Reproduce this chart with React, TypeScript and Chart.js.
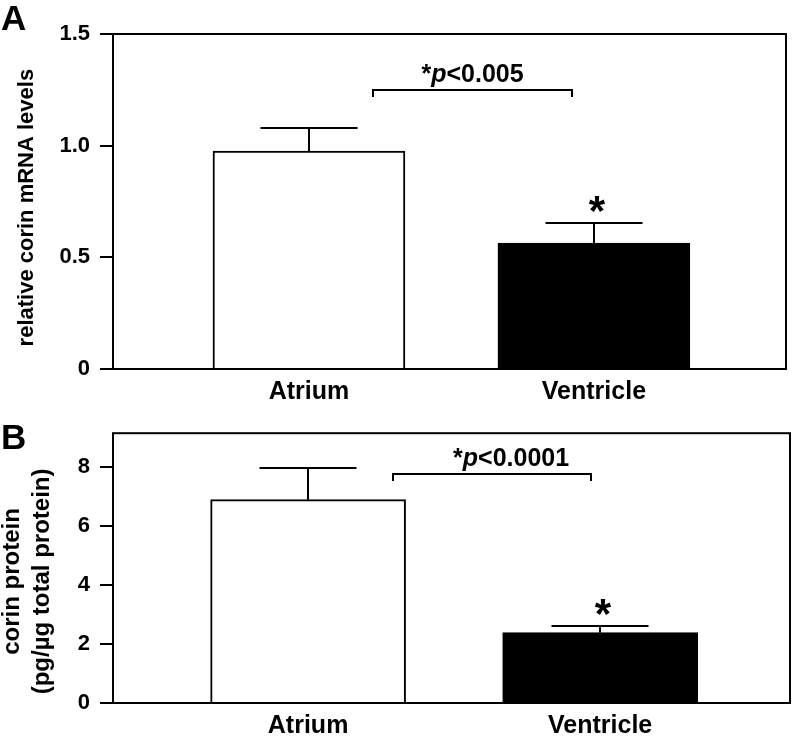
import React, { useEffect, useRef } from "react";
import { Chart, registerables } from "chart.js";

Chart.register(...registerables);

// ---------- data ----------
const categories = ["Atrium", "Ventricle"];
const barColors = ["#ffffff", "#000000"];

const mrnaMeans = [0.976, 0.564];
const mrnaErrors = [0.104, 0.09];
const mrnaTicks = [0, 0.5, 1.0, 1.5];
const mrnaTickLabels = ["0", "0.5", "1.0", "1.5"];
const mrnaPText = "<0.005";

const proteinMeans = [6.88, 2.38];
const proteinErrors = [1.07, 0.21];
const proteinTicks = [0, 2, 4, 6, 8];
const proteinTickLabels = ["0", "2", "4", "6", "8"];
const proteinPText = "<0.0001";

const FONT = "'Liberation Sans', Arial, Helvetica, sans-serif";

type Panel = {
  letter: string;
  letterBaseline: number;
  means: number[];
  errors: number[];
  ticks: number[];
  tickLabels: string[];
  yMax: number;
  yTitle: string | string[];
  titleSize: number;
  titleLineHeight: number;
  titlePad: number;
  height: number;
  padTop: number;
  padRight: number;
  xAxisHeight: number;
  xMin: number;
  xMax: number;
  barThickness: number;
  bracket: { x0: number; x1: number; y: number; textX: number; p: string };
};

const panelA: Panel = {
  letter: "A",
  letterBaseline: 30,
  means: mrnaMeans,
  errors: mrnaErrors,
  ticks: mrnaTicks,
  tickLabels: mrnaTickLabels,
  yMax: 1.5,
  yTitle: "relative corin mRNA levels  ",
  titleSize: 22,
  titleLineHeight: 1.2,
  titlePad: 13.5,
  height: 410,
  padTop: 34,
  padRight: 7,
  xAxisHeight: 41,
  xMin: -0.6876,
  xMax: 1.674,
  barThickness: 192,
  bracket: { x0: 0.2245, x1: 0.923, y: 1.25, textX: 0.574, p: mrnaPText },
};

const panelB: Panel = {
  letter: "B",
  letterBaseline: 39,
  means: proteinMeans,
  errors: proteinErrors,
  ticks: proteinTicks,
  tickLabels: proteinTickLabels,
  yMax: 9.13,
  yTitle: ["corin protein    ", "(pg/\u00B5g total protein)    "],
  titleSize: 24,
  titleLineHeight: 1.25,
  titlePad: -3,
  height: 331,
  padTop: 18,
  padRight: 3,
  xAxisHeight: 38,
  xMin: -0.668,
  xMax: 1.65,
  barThickness: 195,
  bracket: { x0: 0.291, x1: 0.969, y: 7.76, textX: 0.695, p: proteinPText },
};

function decorPlugin(cfg: Panel) {
  return {
    id: "panelDecor",
    afterDatasetsDraw(chart: any) {
      const { ctx, chartArea: a, scales } = chart;
      const xs = scales.x;
      const ys = scales.y;
      ctx.save();
      ctx.strokeStyle = "#000";
      ctx.fillStyle = "#000";
      ctx.lineWidth = 2;
      const line = (x1: number, y1: number, x2: number, y2: number) => {
        ctx.beginPath();
        ctx.moveTo(x1, y1);
        ctx.lineTo(x2, y2);
        ctx.stroke();
      };
      // error bars
      const meta = chart.getDatasetMeta(0);
      const capHalf = 48.5;
      let lastCap = 0;
      let lastX = 0;
      meta.data.forEach((bar: any, i: number) => {
        const x = Math.round(bar.x);
        const yTop = ys.getPixelForValue(cfg.means[i]);
        const yCap = Math.round(ys.getPixelForValue(cfg.means[i] + cfg.errors[i]));
        line(x, yTop, x, yCap);
        line(x - capHalf, yCap, x + capHalf, yCap);
        lastCap = yCap;
        lastX = x;
      });
      // frame
      ctx.strokeRect(a.left, a.top, a.right - a.left, a.bottom - a.top);
      // significance bracket
      const b = cfg.bracket;
      const bx0 = Math.round(xs.getPixelForValue(b.x0));
      const bx1 = Math.round(xs.getPixelForValue(b.x1));
      const by = Math.round(ys.getPixelForValue(b.y));
      ctx.beginPath();
      ctx.moveTo(bx0, by + 7);
      ctx.lineTo(bx0, by);
      ctx.lineTo(bx1, by);
      ctx.lineTo(bx1, by + 7);
      ctx.stroke();
      // p text: "*" bold, "p" bold italic, rest bold
      const fBold = `bold 25px ${FONT}`;
      const fIt = `italic bold 25px ${FONT}`;
      ctx.textBaseline = "alphabetic";
      ctx.textAlign = "left";
      ctx.font = fBold;
      const wStar = ctx.measureText("*").width;
      const wRest = ctx.measureText(b.p).width;
      ctx.font = fIt;
      const wP = ctx.measureText("p").width;
      const total = wStar + wP + wRest;
      let tx = xs.getPixelForValue(b.textX) - total / 2;
      const tyBase = by - 8;
      ctx.font = fBold;
      ctx.fillText("*", tx, tyBase);
      tx += wStar;
      ctx.font = fIt;
      ctx.fillText("p", tx, tyBase);
      tx += wP;
      ctx.font = fBold;
      ctx.fillText(b.p, tx, tyBase);
      // asterisk over second bar
      ctx.font = `bold 42px ${FONT}`;
      ctx.textAlign = "center";
      const m = ctx.measureText("*");
      const desc = m.actualBoundingBoxDescent || -15;
      const glyphBottom = lastCap - 11;
      ctx.fillText("*", lastX + 3, glyphBottom - desc);
      // panel letter
      ctx.font = `bold 35px ${FONT}`;
      ctx.textAlign = "left";
      ctx.fillText(cfg.letter, 1, cfg.letterBaseline);
      ctx.restore();
    },
  };
}

function PanelChart({ cfg, top }: { cfg: Panel; top: number }) {
  const ref = useRef<HTMLCanvasElement | null>(null);
  useEffect(() => {
    if (!ref.current) return;
    const chart = new Chart(ref.current, {
      type: "bar",
      data: {
        datasets: [
          {
            data: categories.map((_, i) => ({ x: i, y: cfg.means[i] })),
            backgroundColor: barColors,
            borderColor: "#000",
            borderWidth: 2,
            barThickness: cfg.barThickness,
          } as any,
        ],
      },
      options: {
        animation: false,
        responsive: false,
        maintainAspectRatio: false,
        devicePixelRatio: 1,
        layout: { padding: { top: cfg.padTop, right: cfg.padRight, left: 0, bottom: 0 } },
        plugins: { legend: { display: false }, tooltip: { enabled: false }, title: { display: false } },
        scales: {
          x: {
            type: "linear",
            offset: false,
            min: cfg.xMin,
            max: cfg.xMax,
            grid: { display: false, offset: false },
            border: { display: false },
            afterBuildTicks: (s: any) => {
              s.ticks = categories.map((_, i) => ({ value: i }));
            },
            afterFit: (s: any) => {
              s.height = cfg.xAxisHeight;
            },
            ticks: {
              padding: 0,
              maxRotation: 0,
              autoSkip: false,
              color: "#000",
              font: { family: FONT, size: 25, weight: "bold" },
              callback: (_v: any, i: number) => categories[i],
            },
          },
          y: {
            type: "linear",
            min: 0,
            max: cfg.yMax,
            border: { display: false },
            grid: {
              drawOnChartArea: false,
              drawTicks: true,
              tickLength: 13,
              color: "#000",
              lineWidth: 2,
            },
            afterBuildTicks: (s: any) => {
              s.ticks = cfg.ticks.map((v) => ({ value: v }));
            },
            afterFit: (s: any) => {
              s.width = 113;
            },
            ticks: {
              padding: 10,
              color: "#000",
              font: { family: FONT, size: 22, weight: "bold" },
              callback: (_v: any, i: number) => cfg.tickLabels[i],
            },
            title: {
              display: true,
              text: cfg.yTitle,
              color: "#000",
              padding: { top: cfg.titlePad, bottom: 0 },
              font: { family: FONT, size: cfg.titleSize, weight: "bold", lineHeight: cfg.titleLineHeight },
            },
          },
        },
      } as any,
      plugins: [decorPlugin(cfg)],
    });
    return () => chart.destroy();
  }, [cfg]);
  return (
    <canvas
      ref={ref}
      width={793}
      height={cfg.height}
      style={{ position: "absolute", left: 0, top, display: "block" }}
    />
  );
}

export default function App() {
  return (
    <div style={{ position: "absolute", left: 0, top: 0, width: 793, height: 741, background: "#fff", overflow: "hidden" }}>
      <PanelChart cfg={panelA} top={0} />
      <PanelChart cfg={panelB} top={410} />
    </div>
  );
}
